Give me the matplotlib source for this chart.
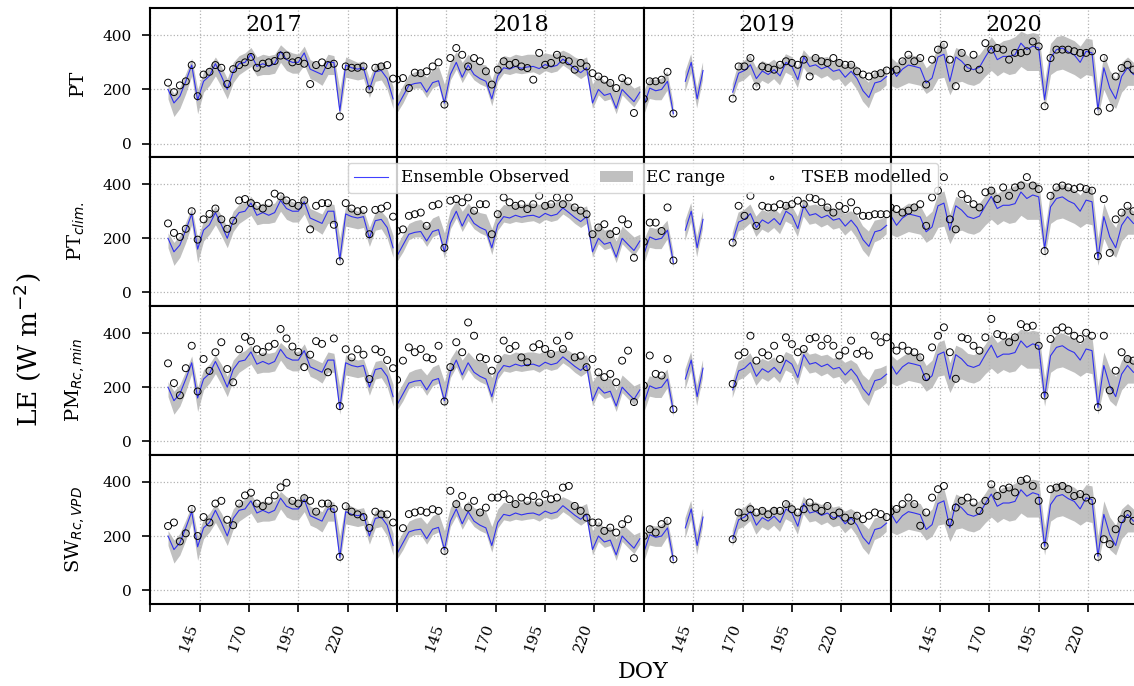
import numpy as np
import matplotlib
matplotlib.use("Agg")
import matplotlib.pyplot as plt

nan = np.nan

# day of year, sampled every 3 days
doy = [120, 123, 126, 129, 132, 135, 138,
       141, 144, 147, 150, 153, 156, 159,
       162, 165, 168, 171, 174, 177, 180,
       183, 186, 189, 192, 195, 198, 201,
       204, 207, 210, 213, 216, 219, 222,
       225, 228, 231, 234, 237, 240, 243]

years = [2017, 2018, 2019, 2020]
row_labels = ["PT", "PT$_{clim.}$", "PM$_{Rc,min}$", "SW$_{Rc,VPD}$"]
x_ticks = [120, 145, 170, 195, 220, 245]
x_ticklabels = ["", "145", "170", "195", "220", ""]

# ---- 2017 ----
obs_2017 = [nan, nan, nan, 200, 150, 175, 230, 290, 160, 230, 250, 295, 250, 200,
            265, 295, 300, 330, 285, 295, 285, 295, 340, 310, 300, 300, 335, 275,
            265, 255, 300, 300, 120, 290, 280, 275, 280, 200, 265, 270, 240, 165]
ec_lo_2017 = [nan, nan, nan, 165, 100, 130, 185, 250, 110, 190, 215, 250, 210, 165,
              225, 255, 270, 285, 250, 255, 255, 260, 300, 270, 260, 260, 290, 240,
              230, 215, 255, 255, 100, 245, 240, 235, 240, 170, 230, 235, 200, 130]
ec_hi_2017 = [nan, nan, nan, 220, 185, 210, 260, 315, 200, 265, 285, 320, 285, 240,
              300, 325, 335, 355, 320, 330, 325, 330, 365, 345, 335, 330, 360, 310,
              300, 290, 330, 325, 200, 320, 310, 300, 305, 240, 295, 300, 275, 210]
pt_2017 = [nan, nan, nan, 225, 190, 215, 230, 290, 175, 255, 265, 290, 280, 220,
           275, 290, 300, 320, 280, 295, 300, 305, 325, 325, 300, 305, 295, 220,
           290, 300, 290, 295, 100, 285, 280, 280, 285, 200, 280, 285, 290, 240]
ptclim_2017 = [nan, nan, nan, 255, 220, 205, 235, 300, 195, 270, 290, 310, 270, 235,
               265, 340, 345, 330, 320, 310, 330, 365, 355, 340, 330, 320, 340, 233,
               320, 330, 330, 250, 115, 330, 310, 300, 305, 215, 305, 310, 320, 280]
pm_2017 = [nan, nan, nan, 288, 215, 170, 270, 353, 184, 304, 260, 329, 366, 267,
           218, 340, 386, 370, 340, 330, 350, 360, 415, 380, 350, 330, 274, 320,
           370, 360, 255, 380, 130, 340, 310, 340, 320, 230, 340, 330, 300, 270]
sw_2017 = [nan, nan, nan, 237, 250, 180, 210, 300, 200, 270, 250, 320, 330, 260,
           240, 320, 350, 360, 320, 310, 330, 350, 380, 397, 330, 320, 340, 330,
           290, 320, 320, 300, 123, 310, 290, 280, 270, 230, 290, 280, 280, 250]

# ---- 2018 ----
obs_2018 = [135, 175, 215, 222, 225, 190, 225, 232, 150, 255, 300, 245, 290, 255,
            240, 230, 165, 250, 280, 275, 285, 278, 283, 285, 277, 292, 283, 289,
            312, 295, 277, 262, 280, 150, 200, 178, 185, 130, 200, 177, 155, 190]
ec_lo_2018 = [115, 150, 195, 205, 205, 170, 205, 215, 125, 235, 275, 225, 265, 235,
              220, 210, 140, 230, 260, 255, 262, 258, 262, 265, 255, 270, 262, 268,
              290, 275, 255, 240, 255, 130, 180, 158, 165, 110, 180, 157, 135, 170]
ec_hi_2018 = [175, 215, 255, 265, 270, 245, 275, 285, 220, 305, 340, 300, 330, 305,
              295, 290, 235, 300, 325, 320, 330, 325, 330, 330, 325, 335, 330, 335,
              345, 335, 320, 310, 320, 220, 255, 230, 235, 190, 245, 225, 205, 215]
pt_2018 = [236, 242, 205, 262, 260, 267, 285, 300, 144, 316, 353, 328, 285, 316,
           304, 267, 218, 273, 304, 291, 298, 285, 279, 236, 335, 291, 298, 328,
           310, 304, 273, 298, 285, 260, 248, 236, 224, 205, 242, 230, 113, nan]
ptclim_2018 = [227, 233, 283, 289, 295, 246, 320, 326, 165, 339, 345, 333, 351, 302,
               326, 326, 215, 289, 351, 333, 320, 326, 308, 326, 357, 320, 326, 351,
               326, 351, 314, 302, 289, 215, 240, 252, 215, 227, 270, 252, 128, nan]
pm_2018 = [227, 298, 347, 329, 341, 310, 304, 353, 147, 274, 366, 329, 439, 390,
           310, 304, 261, 304, 372, 341, 353, 310, 292, 347, 359, 341, 323, 372,
           341, 390, 310, 316, 274, 304, 255, 237, 249, 218, 298, 335, 145, nan]
sw_2018 = [nan, 229, 281, 287, 293, 287, 299, 293, 145, 367, 318, 348, 305, 330,
           287, 305, 342, 342, 355, 336, 318, 342, 330, 348, 324, 355, 336, 342,
           379, 385, 311, 293, 268, 250, 250, 219, 231, 213, 244, 262, 118, nan]

# ---- 2019 ----
obs_2019 = [140, 205, 195, 200, 230, 110, nan, 230, 300, 165, 270, nan, nan, nan,
            nan, 190, 260, 270, 291, 240, 268, 255, 273, 250, 300, 285, 236, 320,
            285, 291, 276, 285, 267, 273, 245, 267, 240, 195, 170, 224, 230, 248]
ec_lo_2019 = [100, 165, 160, 160, 195, 90, nan, 190, 260, 130, 235, nan, nan, nan,
              nan, 160, 225, 235, 255, 205, 232, 220, 238, 215, 262, 250, 205, 280,
              250, 255, 240, 250, 232, 238, 210, 230, 200, 155, 130, 185, 195, 215]
ec_hi_2019 = [190, 240, 235, 240, 265, 150, nan, 265, 330, 205, 300, nan, nan, nan,
              nan, 220, 295, 305, 325, 280, 305, 295, 310, 290, 330, 320, 280, 345,
              320, 325, 315, 320, 305, 310, 290, 300, 285, 245, 225, 265, 270, 280]
pt_2019 = [165, 230, 230, 236, 265, 111, nan, nan, nan, nan, nan, nan, nan, nan,
           nan, 166, 285, 285, 316, 211, 285, 279, 273, 291, 304, 298, 291, 310,
           248, 316, 304, 298, 316, 298, 291, 291, 267, 255, 248, 255, 260, 270]
ptclim_2019 = [187, 258, 258, 227, 314, 118, nan, nan, nan, nan, nan, nan, nan, nan,
               nan, 184, 320, 283, 357, 246, 320, 314, 314, 326, 320, 326, 339, 326,
               351, 345, 333, 314, 295, 320, 308, 333, 302, 283, 283, 289, 289, 289]
pm_2019 = [206, 317, 249, 243, 304, 118, nan, nan, nan, nan, nan, nan, nan, nan,
           nan, 212, 317, 329, 390, 298, 329, 317, 353, 304, 384, 359, 329, 341,
           378, 384, 353, 378, 353, 317, 335, 372, 323, 335, 317, 390, 366, 384]
sw_2019 = [200, 225, 213, 244, 256, 114, nan, nan, nan, nan, nan, nan, nan, nan,
           nan, 188, 287, 268, 299, 287, 293, 280, 293, 293, 318, 299, 287, 299,
           324, 305, 293, 311, 275, 287, 268, 256, 275, 262, 275, 287, 281, 270]

# ---- 2020 ----
obs_2020 = [285, 248, 275, 290, 285, 279, 224, 242, 320, 330, 230, 320, 304, 280,
            273, 282, 320, 355, 310, 322, 322, 328, 371, 347, 360, 353, 162, 316,
            347, 353, 338, 328, 300, 341, 335, 125, 280, 205, 165, 248, 280, 255]
ec_lo_2020 = [215, 205, 215, 225, 220, 215, 185, 200, 240, 245, 180, 225, 230, 220,
              215, 225, 250, 270, 250, 265, 255, 260, 285, 270, 270, 270, 130, 255,
              270, 275, 265, 255, 240, 255, 250, 100, 200, 150, 130, 190, 215, 215]
ec_hi_2020 = [320, 300, 315, 330, 325, 320, 280, 300, 365, 375, 290, 355, 345, 325,
              320, 330, 360, 395, 365, 380, 385, 395, 415, 405, 410, 405, 230, 370,
              395, 400, 390, 380, 360, 390, 385, 200, 330, 270, 240, 300, 320, 300]
pt_2020 = [267, 273, 304, 328, 304, 316, 218, 310, 347, 365, 310, 212, 335, 279,
           328, 273, 371, 347, 353, 347, 310, 335, 335, 341, 377, 359, 138, 316,
           347, 347, 347, 341, 335, 335, 341, 119, 316, 132, 248, 279, 291, 273]
ptclim_2020 = [314, 308, 295, 302, 314, 326, 246, 351, 376, 426, 270, 233, 363, 345,
               326, 314, 370, 376, 345, 388, 357, 388, 395, 426, 395, 382, 153, 357,
               388, 395, 388, 382, 388, 382, 376, 134, 345, 146, 270, 295, 320, 300]
pm_2020 = [353, 335, 353, 335, 329, 310, 237, 347, 390, 421, 329, 231, 384, 378,
           353, 335, 384, 452, 396, 390, 366, 384, 433, 421, 427, 353, 169, 378,
           409, 421, 409, 390, 378, 401, 390, 126, 390, 188, 261, 329, 304, 298]
sw_2020 = [290, 300, 318, 342, 318, 238, 287, 342, 373, 385, 250, 305, 330, 342,
           324, 293, 330, 391, 348, 373, 379, 361, 404, 410, 385, 330, 164, 373,
           379, 385, 373, 348, 355, 342, 330, 123, 188, 170, 225, 262, 281, 256]

obs = [obs_2017, obs_2018, obs_2019, obs_2020]
ec_lo = [ec_lo_2017, ec_lo_2018, ec_lo_2019, ec_lo_2020]
ec_hi = [ec_hi_2017, ec_hi_2018, ec_hi_2019, ec_hi_2020]
models = [[pt_2017, pt_2018, pt_2019, pt_2020],
          [ptclim_2017, ptclim_2018, ptclim_2019, ptclim_2020],
          [pm_2017, pm_2018, pm_2019, pm_2020],
          [sw_2017, sw_2018, sw_2019, sw_2020]]

plt.rcParams['font.family'] = ['DejaVu Serif']

fig, axes = plt.subplots(4, 4, figsize=(11.34, 6.86), dpi=100)
fig.subplots_adjust(left=0.1325, right=1.003, top=0.988, bottom=0.12,
                    wspace=0, hspace=0)

for r in range(4):
    for c in range(4):
        ax = axes[r, c]
        x = np.array(doy, dtype=float)
        ax.fill_between(x, np.array(ec_lo[c], dtype=float), np.array(ec_hi[c], dtype=float),
                        color='silver', lw=0, label='EC range', zorder=1)
        ax.plot(x, np.array(obs[c], dtype=float), color='blue', lw=0.8, alpha=0.75,
                label='Ensemble Observed', zorder=2)
        ax.scatter(x, np.array(models[r][c], dtype=float), s=25, facecolors='none',
                   edgecolors='k', linewidths=0.7, label='TSEB modelled', zorder=3)
        ax.set_xlim(120, 245)
        ax.set_ylim(-50, 500)
        ax.set_yticks([0, 200, 400])
        ax.set_xticks(x_ticks)
        ax.grid(True, linestyle=':', color='0.7', lw=0.9)
        for s in ax.spines.values():
            s.set_linewidth(1.5)
        ax.tick_params(axis='both', direction='out', length=6, width=1.2, labelsize=11)
        if c > 0:
            ax.tick_params(axis='y', left=False, labelleft=False)
        else:
            ax.tick_params(axis='y', pad=7)
            ax.set_ylabel(row_labels[r], fontsize=14)
            ax.yaxis.set_label_coords(-0.255, 0.5)
        if r < 3:
            ax.tick_params(axis='x', bottom=False, labelbottom=False)
        else:
            ax.set_xticklabels(x_ticklabels, rotation=70, ha='right')
            ax.tick_params(axis='x', pad=7)
        if r == 0:
            ax.text(0.5, 0.89, str(years[c]), transform=ax.transAxes,
                    ha='center', va='center', fontsize=16)

h, l = axes[0, 0].get_legend_handles_labels()
order = [l.index('Ensemble Observed'), l.index('EC range'), l.index('TSEB modelled')]
fig.legend([h[i] for i in order], [l[i] for i in order], loc='upper center',
           bbox_to_anchor=(0.567, 0.775), ncol=3, fontsize=12, markerscale=0.5,
           columnspacing=1.8, framealpha=0.8)

fig.text(0.024, 0.49, "LE (W m$^{-2}$)", rotation=90, ha='center', va='center', fontsize=19)
fig.text(0.567, 0.02, "DOY", ha='center', va='center', fontsize=16)

fig.savefig("out.png", dpi=100)
